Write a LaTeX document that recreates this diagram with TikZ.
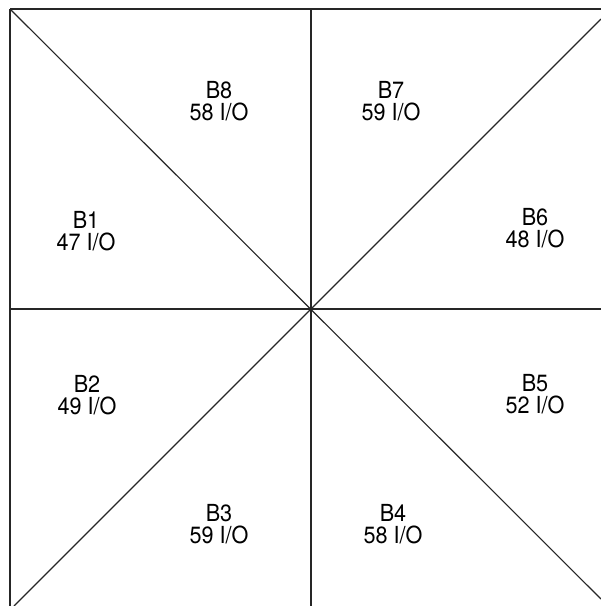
\documentclass[tikz,border=0pt]{standalone}
\usepackage{fontspec}
\setmainfont{TeX Gyre Heros}
\tikzset{
  edge/.style={line width=1.1pt, draw=black!85},
  lbl/.style={align=center, font=\fontsize{23.5}{21.7}\selectfont, inner sep=0pt, xscale=0.92}
}
\begin{document}
\begin{tikzpicture}[x=1pt,y=-1pt]
\useasboundingbox[fill=white] (0,0) rectangle (601,606);
\coordinate (tl) at (10,9);
\coordinate (tr) at (601,9);
\coordinate (bl) at (10,606);
\coordinate (tm) at (311,9);
\coordinate (bm) at (311,606);
\coordinate (lm) at (10,309);
\coordinate (rm) at (601,309);
\coordinate (c) at (311,309);
\coordinate (d1) at (601,599);
\coordinate (d2) at (601,19);
\coordinate (d3) at (14,606);
\begin{scope}
\clip (0,0) rectangle (601,606);
\draw[edge] (tl) -- (tr);
\draw[edge] (tl) -- (bl);
\draw[edge] (tm) -- (bm);
\draw[edge] (lm) -- (rm);
\draw[edge] (tl) -- (d1);
\draw[edge] (d3) -- (d2);
\end{scope}
\node[lbl] (b8) at (219,101) {B8\\58 I/O};
\node[lbl] (b7) at (391,101) {B7\\59 I/O};
\node[lbl] (b1) at (86,231) {B1\\47 I/O};
\node[lbl] (b6) at (535,228) {B6\\48 I/O};
\node[lbl] (b2) at (87,395) {B2\\49 I/O};
\node[lbl] (b5) at (535,394) {B5\\52 I/O};
\node[lbl] (b3) at (219,524) {B3\\59 I/O};
\node[lbl] (b4) at (393,524) {B4\\58 I/O};
\end{tikzpicture}
\end{document}
